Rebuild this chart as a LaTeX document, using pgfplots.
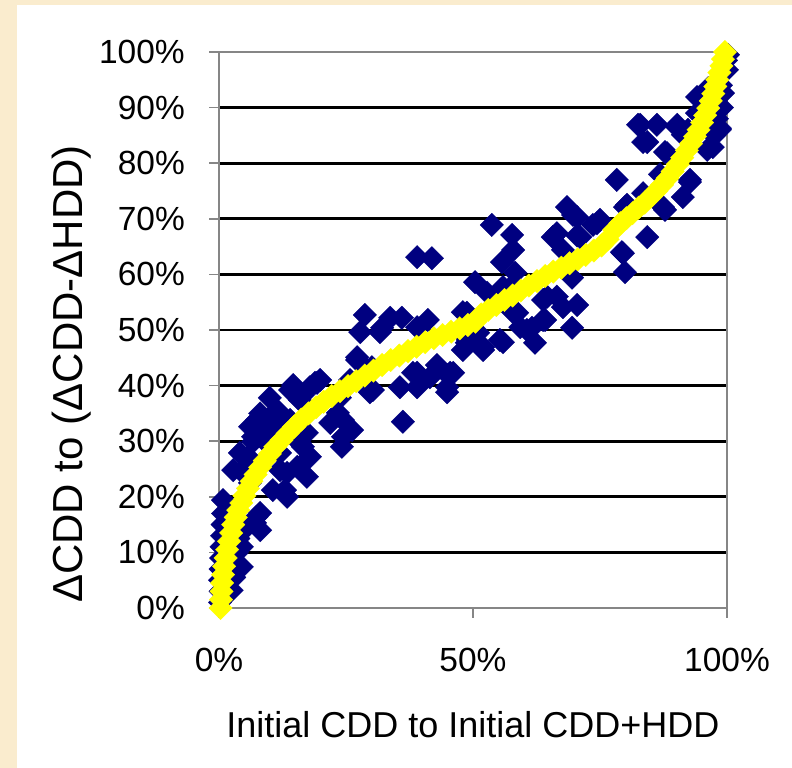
\documentclass[border=0pt]{standalone}
\usepackage{pgfplots}
\pgfplotsset{compat=1.18}
\usepackage{fontspec}
\setmainfont{Liberation Sans}
\definecolor{navy}{RGB}{0,0,128}
\definecolor{yel}{RGB}{255,255,0}
\definecolor{beige}{RGB}{250,236,206}
\definecolor{framegray}{RGB}{134,134,134}
\begin{document}
\begin{tikzpicture}[x=1bp,y=1bp]
\fill[beige] (0,0) rectangle (792,768);
\fill[white] (17,0) rectangle (792,763);
\useasboundingbox (0,0) rectangle (792,768);
\begin{axis}[
  at={(219bp,160bp)}, anchor=south west,
  scale only axis, width=508bp, height=556bp,
  xmin=0, xmax=100, ymin=0, ymax=100,
  xtick={0,50,100}, xticklabels={0\%,50\%,100\%},
  ytick={0,10,20,30,40,50,60,70,80,90,100},
  yticklabels={0\%,10\%,20\%,30\%,40\%,50\%,60\%,70\%,80\%,90\%,100\%},
  xtick pos=bottom, ytick pos=left,
  ymajorgrids, grid style={black, line width=2.8bp},
  axis line style={framegray, line width=2.4bp},
  tick align=outside, major tick length=10bp,
  tick style={framegray, line width=1.5bp},
  ticklabel style={font=\fontsize{33.5bp}{40bp}\selectfont},
  xticklabel style={inner sep=0pt, anchor=north, yshift=-30bp},
  yticklabel style={inner sep=0pt, anchor=east, xshift=-24bp},
  xlabel={Initial CDD to Initial CDD+HDD},
  ylabel={ΔCDD to (ΔCDD-ΔHDD)},
  xlabel style={at={(axis description cs:0.5,-0.2104)}, anchor=center, font=\fontsize{36bp}{42bp}\selectfont},
  ylabel style={at={(axis description cs:-0.291,0.4209)}, anchor=center, font=\fontsize{42bp}{48bp}\selectfont},
  clip=false,
]
\addplot[only marks, color=navy, mark=square*, mark size=8.3bp, mark options={rotate=45, draw=navy, fill=navy, line width=0.3bp}] coordinates {
(0.2,1) (0.3,3) (0.2,5) (0.3,7) (0.4,9) (0.5,11) (0.6,13) (0.7,15) (0.8,17) (0.8,19.4)
(2.2,17.1) (2.5,3.2) (3.0,5.5) (3.5,6.8) (3.5,9.9) (4.5,11) (4.5,7.4) (3.8,12.5) (4.5,14)
(5.5,14.6) (7.4,16.4) (8.1,17.1) (8.1,14.0) (7.1,15.3)
(4.7,24.3) (5.7,27.2) (6.1,22.5) (6.7,30.8) (6.7,29.9) (7.5,33.8) (9.4,32) (10.6,32.6)
(10,37.8) (10.6,21.2) (12,24.8) (12,27.9) (12.6,31.5) (13.4,24.3) (13.4,20.0) (13,21.2)
(14,33.8) (14.6,40.1) (15.4,25.4) (15.9,32) (15.9,37.4) (16.5,38.3) (15.9,29.7) (17.9,27.2)
(17.3,23.6) (18.9,40.5) (19.3,40.5) (21.9,33.3) (23.4,35.1) (23.8,37.8) (24.4,33.8)
(14,39.2) (17.9,39.7) (19.9,41) (8.1,35) (6.1,32.6) (4.1,27.9) (2.8,24.8) (11.4,35.6)
(17.3,31.5) (16.5,29) (9,30) (11,34) (5.5,25.5)
(24.4,30.8) (24.2,29) (25.8,41) (26.2,32) (27.2,44.6) (27.2,45.1) (27.8,49.6) (28.7,52.7)
(30.1,43.3) (30.3,39.2) (29.7,38.8) (31.7,49.6) (32.1,50.4) (33.7,52.2) (36.0,52.2)
(35.6,39.7) (36.2,33.5) (38.2,42.3) (39.0,39.7) (39.0,42.3) (39.0,50.5) (41.1,51.8)
(39.0,63.1) (41.9,62.9) (41.5,41.5) (42.9,43.7) (44.9,39.7) (45.1,41.9) (44.9,38.8)
(45.5,42.3) (46.1,42.3) (48.0,53.2) (48.8,53.1) (48.8,47.7) (48.8,48.7) (49.0,48.2)
(48.0,46.4) (50.4,58.6) (51.0,49.5) (52.0,46.4) (52.0,46.9) (52.8,56.7) (53.7,68.9)
(55.3,48.2) (55.7,62.2) (55.9,47.8) (55.9,57.7) (57.3,57.6) (57.7,67.1) (57.9,64.4)
(57.9,53.2) (58.3,60.3) (58.7,53.1) (59.3,50.5) (60.6,50) (61.6,50.4) (62.2,47.7)
(63.8,55.4) (63.8,51.8) (64.2,51.8) (64.6,56) (65.7,66.7) (66.5,56) (66.5,67.4)
(67.7,64.4) (67.7,54.1) (68.5,72.1) (69.5,59.4) (69.5,50.4) (69.7,70.7) (70.5,70.3)
(70.5,54.5) (70.5,67) (71.1,66.7) (73.6,68.9) (74.4,69.2) (75.0,69.8) (78.3,77)
(79.3,64) (79.5,63.8) (79.9,60.4) (79.9,72.1) (80.3,72.5) (82.5,86.9) (82.9,86.9)
(83.5,74.6) (83.5,83.8) (84.3,66.7) (84.3,83.8) (86.2,86.9) (86.8,78) (87.4,72.1)
(87.8,82) (87.8,71.6) (88.2,81.8) (90.2,86.9) (90.2,86.5) (91.3,85.1) (91.3,73.9)
(92.3,86) (92.7,76.6) (92.7,77) (94.1,89) (94.1,91.9) (96.1,82.4) (96.0,89.6)
(96.3,93.5) (97.2,82.9) (98.6,86) (98.6,86.3) (99.2,92.6) (100.0,96.8) (100.2,99.5)
(98.8,94) (99.4,97) (99.8,98.5) (99.0,90) (98.0,88) (97.5,85) (96.5,86.5)
};
\addplot[only marks, color=yel, mark=square*, mark size=8.3bp, mark options={rotate=45, draw=yel, fill=yel, line width=0.3bp}] coordinates {
(0.3,0) (0.4,1.5) (0.5,3) (0.6,4.5) (0.8,6) (1.0,7.5) (1.3,9) (1.6,10.5) (2.0,12)
(2.4,13.5) (2.8,15) (3.3,16.3) (3.8,17.6) (4.4,18.9) (5.0,20.2) (5.7,21.5) (6.4,22.8)
(7.2,24) (8.1,25.3) (9.0,26.5) (10.0,27.7) (11.1,29) (12.3,30.2) (13.5,31.4) (14.8,32.6)
(16.2,33.9) (17.6,35) (19.1,36.1) (20.6,37.1) (22.2,38.1) (23.8,39) (25.4,39.9)
(27.0,40.8) (28.7,41.8) (30.4,42.7) (32.1,43.7) (33.8,44.6) (35.5,45.4) (37.2,46.2)
(38.9,47) (40.6,47.8) (42.3,48.5) (44.0,49.1) (45.7,49.7) (47.4,50.3) (49.0,50.9)
(50.5,51.5) (51.6,52.8) (53.0,53.6) (54.6,54.5) (56.2,55.4) (57.8,56.2) (59.4,57.1)
(61.0,58) (62.6,58.8) (64.2,59.7) (65.8,60.5) (67.4,61.2) (69.0,62) (70.6,62.7)
(72.2,63.5) (73.8,64.3) (75.3,65.2) (76.5,66.3) (77.8,68) (79.0,69.2) (80.2,70.1)
(81.4,71) (82.6,72) (83.8,72.9) (85.0,74) (86.1,75) (87.2,76.1) (88.3,77.3) (89.3,78.5)
(90.3,79.8) (91.2,81) (92.1,82.3) (92.9,83.5) (93.7,84.8) (94.4,86) (95.1,87.3)
(95.7,88.6) (96.3,89.9) (96.8,91.2) (97.3,92.5) (97.7,93.8) (98.1,95) (98.5,96.3)
(98.9,97.5) (99.2,98.7) (99.6,100)
};
\end{axis}
\end{tikzpicture}
\end{document}
